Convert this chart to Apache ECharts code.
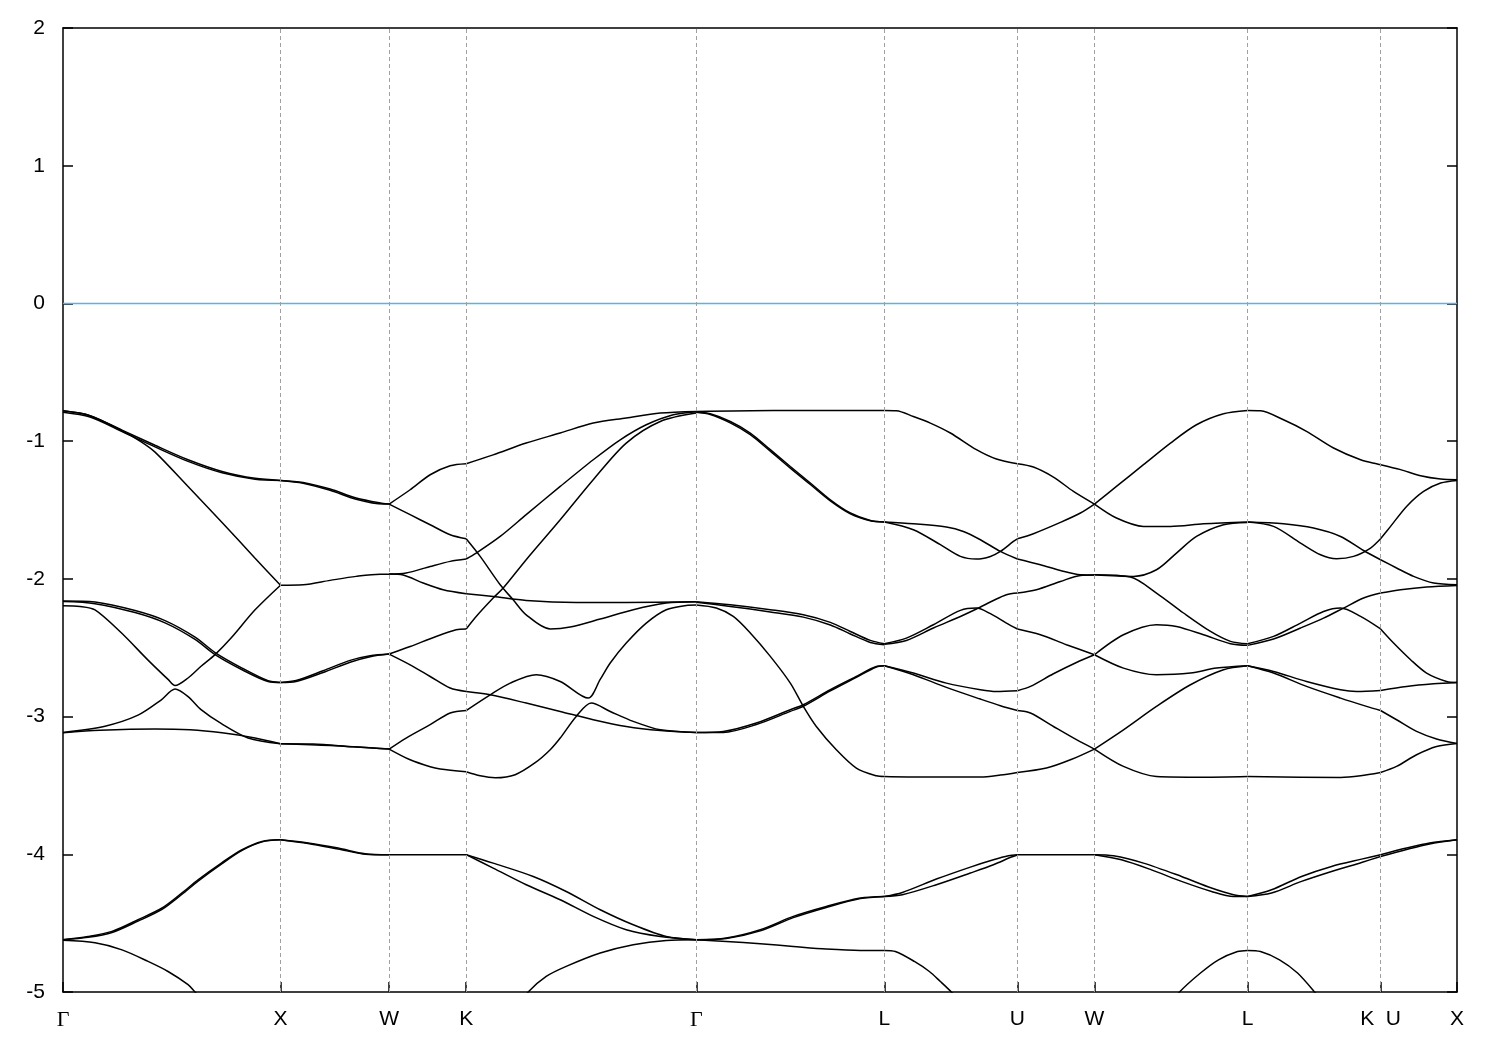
<!DOCTYPE html>
<html><head><meta charset="utf-8">
<script src="https://cdn.jsdelivr.net/npm/echarts@6/dist/echarts.min.js"></script>
<style>html,body{margin:0;padding:0;background:#fff}#c{width:1500px;height:1050px}</style>
</head><body><div id="c"></div>
<script>
// High-symmetry points along the k-path (path coordinate) and their labels
const kTicks = [0, 217.4, 326, 403, 633, 821, 954, 1031, 1184, 1317, 1393.4];
const tickLabels = ['Γ', 'X', 'W', 'K', 'Γ', 'L', 'U', 'W', 'L', 'K  U', 'X'];
const yMin = -5, yMax = 2, yStep = 1;
const fermiLevel = 0;

// Band lines per path segment: each line is a list of [k, E]
const segGX = [
  [[0,-0.78],[27,-0.815],[59,-0.92],[92,-1.03],[125,-1.135],[159,-1.22],[192,-1.27],[217.4,-1.285]],
  [[0,-0.79],[27,-0.825],[59,-0.93],[92,-1.042],[125,-1.147],[159,-1.23],[192,-1.276],[217.4,-1.285]],
  [[0,-0.78],[27,-0.815],[59,-0.925],[77,-1.0],[92,-1.08],[125,-1.33],[159,-1.59],[192,-1.85],[217.4,-2.046]],
  [[0,-2.165],[32,-2.18],[72,-2.245],[102,-2.32],[132,-2.44],[152,-2.55],[179,-2.66],[205,-2.745],[217.4,-2.752]],
  [[0,-2.16],[32,-2.168],[72,-2.23],[102,-2.303],[132,-2.423],[152,-2.535],[179,-2.648],[205,-2.74],[217.4,-2.752]],
  [[0,-2.195],[17,-2.2],[32,-2.225],[58,-2.39],[85,-2.59],[105,-2.73],[112,-2.775],[125,-2.72],[138,-2.635],[152,-2.55],[168,-2.43],[192,-2.225],[217.4,-2.046]],
  [[0,-3.115],[42,-3.07],[75,-2.99],[98,-2.88],[112,-2.8],[125,-2.855],[138,-2.95],[158,-3.05],[185,-3.155],[217.4,-3.197]],
  [[0,-3.118],[37,-3.1],[92,-3.09],[127,-3.096],[159,-3.118],[192,-3.155],[217.4,-3.197]],
  [[0,-4.62],[25,-4.597],[49,-4.56],[75,-4.475],[99,-4.39],[119,-4.28],[135,-4.185],[159,-4.06],[179,-3.967],[199,-3.907],[217.4,-3.895]],
  [[0,-4.62],[25,-4.603],[49,-4.568],[75,-4.485],[99,-4.4],[119,-4.29],[135,-4.195],[159,-4.068],[179,-3.972],[199,-3.91],[217.4,-3.895]],
  [[0,-4.625],[32,-4.643],[59,-4.694],[85,-4.778],[105,-4.851],[125,-4.947],[132,-5.0],[142,-5.08]]
];
const segXW = [
  [[217.4,-1.285],[240,-1.3],[267,-1.348],[293,-1.413],[320,-1.453],[326,-1.457]],
  [[217.4,-1.285],[240,-1.305],[267,-1.357],[293,-1.422],[320,-1.457],[326,-1.457]],
  [[217.4,-2.046],[240,-2.043],[267,-2.011],[293,-1.982],[317,-1.966],[326,-1.966]],
  [[217.4,-2.752],[233,-2.738],[260,-2.667],[287,-2.592],[307,-2.558],[326,-2.546]],
  [[217.4,-2.752],[233,-2.745],[260,-2.68],[287,-2.605],[307,-2.565],[326,-2.546]],
  [[217.4,-3.197],[267,-3.21],[326,-3.236]],
  [[217.4,-3.197],[250,-3.2],[290,-3.22],[326,-3.236]],
  [[217.4,-3.895],[245,-3.918],[275,-3.955],[302,-3.996],[326,-4.003]],
  [[217.4,-3.895],[245,-3.922],[275,-3.962],[302,-3.999],[326,-4.003]]
];
const segWK = [
  [[326,-1.457],[347,-1.353],[367,-1.244],[387,-1.179],[403,-1.164]],
  [[326,-1.457],[347,-1.534],[367,-1.607],[387,-1.68],[403,-1.709]],
  [[326,-1.965],[343,-1.958],[367,-1.91],[387,-1.873],[403,-1.856]],
  [[326,-1.965],[340,-1.972],[360,-2.03],[380,-2.079],[403,-2.108]],
  [[326,-2.546],[347,-2.491],[373,-2.418],[393,-2.37],[403,-2.364]],
  [[326,-2.546],[347,-2.624],[367,-2.709],[387,-2.793],[403,-2.818]],
  [[326,-3.236],[343,-3.156],[367,-3.059],[387,-2.974],[403,-2.956]],
  [[326,-3.236],[347,-3.314],[367,-3.364],[377,-3.38],[403,-3.401]],
  [[326,-4.003],[403,-4.003]]
];
const segKG = [
  [[403,-1.164],[430,-1.1],[463,-1.014],[497,-0.941],[530,-0.869],[563,-0.832],[597,-0.796],[633,-0.784]],
  [[403,-1.856],[413,-1.813],[437,-1.692],[463,-1.534],[497,-1.329],[530,-1.135],[557,-0.99],[583,-0.881],[610,-0.808],[633,-0.786]],
  [[403,-2.364],[413,-2.273],[430,-2.139],[440,-2.067],[463,-1.861],[497,-1.571],[530,-1.28],[563,-1.014],[597,-0.857],[633,-0.796]],
  [[403,-1.709],[417,-1.837],[437,-2.043],[450,-2.152],[463,-2.261],[487,-2.364],[507,-2.35],[537,-2.292],[570,-2.224],[603,-2.176],[633,-2.166]],
  [[403,-2.108],[430,-2.128],[463,-2.157],[513,-2.171],[563,-2.171],[633,-2.166]],
  [[403,-2.956],[427,-2.842],[447,-2.757],[473,-2.696],[497,-2.745],[525,-2.866],[537,-2.73],[547,-2.611],[563,-2.466],[583,-2.321],[603,-2.224],[623,-2.193],[633,-2.19]],
  [[403,-3.401],[417,-3.43],[432,-3.444],[452,-3.422],[472,-3.335],[487,-3.241],[497,-3.156],[513,-2.999],[528,-2.902],[547,-2.963],[570,-3.035],[597,-3.096],[633,-3.115]],
  [[403,-2.818],[427,-2.842],[463,-2.902],[497,-2.963],[530,-3.023],[563,-3.072],[597,-3.101],[633,-3.115]],
  [[403,-4.003],[430,-4.064],[470,-4.161],[503,-4.27],[537,-4.403],[570,-4.512],[603,-4.597],[633,-4.621]],
  [[403,-4.003],[430,-4.1],[463,-4.221],[497,-4.33],[530,-4.451],[563,-4.548],[597,-4.597],[633,-4.621]],
  [[457,-5.09],[465,-5.0],[483,-4.887],[503,-4.814],[537,-4.717],[570,-4.657],[603,-4.626],[633,-4.621]]
];
const segGL = [
  [[633,-0.784],[710,-0.777],[821,-0.777]],
  [[633,-0.79],[647,-0.801],[667,-0.857],[687,-0.941],[707,-1.062],[727,-1.184],[747,-1.304],[767,-1.426],[787,-1.522],[807,-1.576],[821,-1.587]],
  [[633,-0.79],[647,-0.806],[667,-0.867],[687,-0.953],[707,-1.073],[727,-1.196],[747,-1.315],[767,-1.434],[787,-1.528],[807,-1.578],[821,-1.587]],
  [[633,-2.166],[667,-2.188],[707,-2.224],[740,-2.261],[767,-2.316],[787,-2.382],[807,-2.447],[821,-2.471]],
  [[633,-2.17],[667,-2.2],[707,-2.24],[740,-2.278],[767,-2.335],[787,-2.4],[807,-2.462],[821,-2.478]],
  [[633,-2.19],[653,-2.212],[670,-2.273],[687,-2.393],[707,-2.563],[727,-2.757],[740,-2.926],[753,-3.072],[773,-3.241],[793,-3.374],[813,-3.43],[821,-3.435]],
  [[633,-3.115],[660,-3.108],[693,-3.047],[727,-2.95],[740,-2.914],[767,-2.805],[793,-2.709],[813,-2.636],[821,-2.631]],
  [[633,-3.115],[660,-3.115],[693,-3.058],[727,-2.962],[740,-2.925],[767,-2.814],[793,-2.715],[813,-2.64],[821,-2.631]],
  [[633,-4.621],[663,-4.608],[697,-4.548],[730,-4.451],[763,-4.379],[797,-4.318],[821,-4.306]],
  [[633,-4.621],[663,-4.612],[697,-4.556],[730,-4.46],[763,-4.386],[797,-4.322],[821,-4.306]],
  [[633,-4.621],[663,-4.633],[697,-4.649],[730,-4.669],[763,-4.688],[797,-4.698],[821,-4.698]]
];
const segLU = [
  [[821,-0.777],[833,-0.779],[850,-0.821],[867,-0.869],[887,-0.941],[913,-1.062],[933,-1.13],[954,-1.164]],
  [[821,-1.587],[850,-1.6],[883,-1.624],[900,-1.656],[917,-1.716],[937,-1.801],[954,-1.856]],
  [[821,-1.587],[850,-1.643],[877,-1.752],[897,-1.837],[913,-1.856],[927,-1.837],[937,-1.801],[950,-1.728],[954,-1.709]],
  [[821,-2.471],[843,-2.43],[870,-2.333],[897,-2.229],[913,-2.212],[927,-2.253],[943,-2.321],[954,-2.364]],
  [[821,-2.475],[843,-2.447],[870,-2.357],[897,-2.273],[913,-2.219],[930,-2.157],[943,-2.115],[954,-2.103]],
  [[821,-2.631],[850,-2.684],[883,-2.757],[917,-2.805],[933,-2.818],[954,-2.812]],
  [[821,-2.631],[850,-2.696],[883,-2.788],[917,-2.873],[937,-2.921],[954,-2.956]],
  [[821,-3.435],[860,-3.439],[917,-3.439],[937,-3.425],[954,-3.406]],
  [[821,-4.306],[839,-4.277],[873,-4.18],[907,-4.093],[930,-4.04],[945,-4.011],[954,-4.003]],
  [[821,-4.306],[839,-4.294],[873,-4.221],[907,-4.136],[930,-4.076],[948,-4.02],[954,-4.005]],
  [[821,-4.698],[832,-4.706],[851,-4.778],[866,-4.851],[877,-4.924],[888,-5.0],[897,-5.07]]
];
const segUW = [
  [[954,-1.164],[970,-1.188],[990,-1.261],[1010,-1.365],[1031,-1.457]],
  [[954,-1.709],[970,-1.672],[997,-1.59],[1017,-1.522],[1031,-1.457]],
  [[954,-1.856],[977,-1.898],[997,-1.939],[1017,-1.97],[1031,-1.972]],
  [[954,-2.103],[973,-2.079],[997,-2.019],[1017,-1.975],[1031,-1.972]],
  [[954,-2.364],[977,-2.406],[1003,-2.478],[1031,-2.551]],
  [[954,-2.812],[967,-2.781],[990,-2.689],[1013,-2.607],[1031,-2.551]],
  [[954,-2.956],[967,-2.974],[990,-3.072],[1013,-3.168],[1031,-3.236]],
  [[954,-3.406],[983,-3.374],[1007,-3.314],[1031,-3.236]],
  [[954,-4.003],[1031,-4.003]]
];
const segWL = [
  [[1031,-1.457],[1053,-1.329],[1080,-1.171],[1107,-1.014],[1133,-0.881],[1160,-0.801],[1184,-0.777]],
  [[1031,-1.457],[1053,-1.558],[1080,-1.619],[1107,-1.619],[1140,-1.6],[1184,-1.587]],
  [[1031,-1.97],[1070,-1.982],[1093,-1.934],[1113,-1.813],[1133,-1.692],[1160,-1.607],[1184,-1.59]],
  [[1031,-1.97],[1067,-1.987],[1093,-2.103],[1120,-2.248],[1147,-2.382],[1167,-2.454],[1184,-2.471]],
  [[1031,-2.551],[1060,-2.406],[1093,-2.333],[1113,-2.346],[1140,-2.406],[1167,-2.471],[1184,-2.483]],
  [[1031,-2.551],[1060,-2.648],[1093,-2.696],[1127,-2.684],[1153,-2.648],[1184,-2.631]],
  [[1031,-3.236],[1060,-3.096],[1093,-2.926],[1127,-2.769],[1160,-2.66],[1184,-2.631]],
  [[1031,-3.236],[1060,-3.362],[1093,-3.435],[1140,-3.44],[1184,-3.435]],
  [[1031,-4.003],[1050,-4.011],[1080,-4.064],[1118,-4.161],[1148,-4.245],[1170,-4.294],[1184,-4.306]],
  [[1031,-4.003],[1058,-4.04],[1088,-4.113],[1118,-4.197],[1148,-4.27],[1170,-4.306],[1184,-4.306]],
  [[1107,-5.09],[1116,-5.0],[1137,-4.862],[1155,-4.766],[1174,-4.706],[1184,-4.698]]
];
const segLK = [
  [[1184,-0.777],[1197,-0.779],[1220,-0.845],[1243,-0.929],[1270,-1.05],[1297,-1.135],[1317,-1.171]],
  [[1184,-1.587],[1220,-1.6],[1250,-1.631],[1277,-1.692],[1300,-1.794],[1317,-1.861]],
  [[1184,-1.587],[1210,-1.619],[1237,-1.74],[1257,-1.825],[1273,-1.854],[1290,-1.837],[1307,-1.776],[1317,-1.709]],
  [[1184,-2.471],[1210,-2.418],[1237,-2.321],[1260,-2.237],[1277,-2.212],[1297,-2.273],[1317,-2.364]],
  [[1184,-2.483],[1210,-2.437],[1237,-2.357],[1260,-2.285],[1280,-2.212],[1300,-2.139],[1317,-2.103]],
  [[1184,-2.631],[1210,-2.672],[1243,-2.745],[1277,-2.805],[1293,-2.818],[1317,-2.81]],
  [[1184,-2.631],[1210,-2.684],[1243,-2.781],[1277,-2.866],[1303,-2.926],[1317,-2.956]],
  [[1184,-3.435],[1277,-3.442],[1297,-3.43],[1317,-3.406]],
  [[1184,-4.306],[1208,-4.258],[1238,-4.161],[1268,-4.088],[1298,-4.035],[1317,-4.003]],
  [[1184,-4.306],[1208,-4.281],[1238,-4.197],[1268,-4.125],[1298,-4.059],[1317,-4.016]],
  [[1184,-4.698],[1197,-4.706],[1216,-4.766],[1234,-4.862],[1251,-5.0],[1259,-5.08]]
];
const segUX = [
  [[1317,-1.171],[1337,-1.207],[1357,-1.251],[1377,-1.275],[1393.4,-1.28]],
  [[1317,-1.709],[1327,-1.619],[1343,-1.474],[1360,-1.365],[1377,-1.304],[1393.4,-1.285]],
  [[1317,-1.861],[1333,-1.921],[1350,-1.982],[1370,-2.03],[1393.4,-2.043]],
  [[1317,-2.103],[1337,-2.079],[1363,-2.059],[1393.4,-2.048]],
  [[1317,-2.364],[1330,-2.466],[1347,-2.587],[1363,-2.684],[1383,-2.745],[1393.4,-2.752]],
  [[1317,-2.81],[1343,-2.781],[1370,-2.762],[1393.4,-2.752]],
  [[1317,-2.956],[1333,-3.023],[1353,-3.108],[1373,-3.163],[1393.4,-3.195]],
  [[1317,-3.406],[1333,-3.362],[1353,-3.277],[1373,-3.217],[1393.4,-3.195]],
  [[1317,-4.003],[1343,-3.955],[1366,-3.918],[1393.4,-3.895]],
  [[1317,-4.016],[1343,-3.965],[1366,-3.925],[1393.4,-3.895]]
];

const segments = [segGX, segXW, segWK, segKG, segGL, segLU, segUW, segWL, segLK, segUX];
const kMax = kTicks[kTicks.length - 1];

const chart = echarts.init(document.getElementById('c'), null, {renderer: 'canvas'});
const series = [];
series.push({
  type: 'line', xAxisIndex: 0, yAxisIndex: 0,
  data: [[kTicks[0], fermiLevel], [kMax, fermiLevel]],
  showSymbol: false, silent: true, z: 2,
  lineStyle: {color: '#56b4e9', width: 1.6},
  markLine: {
    silent: true, symbol: ['none', 'none'], label: {show: false},
    lineStyle: {color: '#a0a0a0', width: 1, type: [4, 3]},
    emphasis: {disabled: true},
    data: kTicks.slice(1, -1).map(k => ({xAxis: k}))
  }
});
segments.forEach(seg => seg.forEach(line => {
  series.push({
    type: 'line', xAxisIndex: 0, yAxisIndex: 0, data: line,
    showSymbol: false, silent: true, smooth: 0.3, z: 3, clip: true,
    lineStyle: {color: '#000', width: 1.5}
  });
}));

const labelFmt = v => {
  const i = kTicks.findIndex(k => Math.abs(k - v) < 1e-6);
  if (i < 0) return '';
  const t = tickLabels[i];
  return t === 'Γ' ? '{g|Γ}' : t;
};
const axisLineStyle = {color: '#000', width: 1.5};
const font = 'Liberation Sans, Arial, sans-serif';

chart.setOption({
  animation: false,
  backgroundColor: '#fff',
  grid: {left: 63, right: 43, top: 28, bottom: 58, show: false},
  xAxis: [
    {type: 'value', min: 0, max: kMax, position: 'bottom',
     axisLine: {show: true, onZero: false, lineStyle: axisLineStyle},
     axisTick: {show: true, inside: true, length: 10, customValues: kTicks, lineStyle: axisLineStyle},
     axisLabel: {show: true, customValues: kTicks, formatter: labelFmt, fontSize: 21, color: '#000',
                 fontFamily: font, margin: 17,
                 rich: {g: {fontFamily: 'Liberation Serif, DejaVu Serif, serif', fontSize: 22, color: '#000'}}},
     splitLine: {show: false}},
    {type: 'value', min: 0, max: kMax, position: 'top',
     axisLine: {show: true, onZero: false, lineStyle: axisLineStyle},
     axisTick: {show: false}, axisLabel: {show: false}, splitLine: {show: false}}
  ],
  yAxis: [
    {type: 'value', min: yMin, max: yMax, interval: yStep, position: 'left',
     axisLine: {show: true, onZero: false, lineStyle: axisLineStyle},
     axisTick: {show: true, inside: true, length: 10, lineStyle: axisLineStyle},
     axisLabel: {show: true, fontSize: 21, color: '#000', fontFamily: font, margin: 18},
     splitLine: {show: false}},
    {type: 'value', min: yMin, max: yMax, interval: yStep, position: 'right',
     axisLine: {show: true, onZero: false, lineStyle: axisLineStyle},
     axisTick: {show: true, inside: true, length: 10, lineStyle: axisLineStyle},
     axisLabel: {show: false}, splitLine: {show: false}}
  ],
  series: series
});
</script>
</body></html>
